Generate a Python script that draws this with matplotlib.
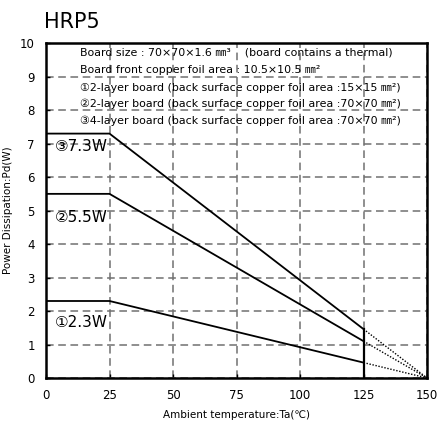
import numpy as np
import matplotlib.pyplot as plt

plt.rcParams['font.family'] = ['DejaVu Sans', 'Noto Sans CJK JP']

temps = [0, 25, 125]
tj_max = 150
pd_max = [2.3, 5.5, 7.3]
curve_labels = ['①2.3W', '②5.5W', '③7.3W']
label_y = [1.65, 4.8, 6.9]
notes = ['Board size : 70×70×1.6 ㎜³    (board contains a thermal)',
         'Board front copper foil area : 10.5×10.5 ㎜²',
         '①2-layer board (back surface copper foil area :15×15 ㎜²)',
         '②2-layer board (back surface copper foil area :70×70 ㎜²)',
         '③4-layer board (back surface copper foil area :70×70 ㎜²)']
note_y = [9.73, 9.19, 8.66, 8.18, 7.67]

fig = plt.figure(figsize=(4.38, 4.32), dpi=100)
ax = fig.add_axes([0.105, 0.125, 0.87, 0.775])

for p in pd_max:
    vals = [p, p, p * (tj_max - temps[2]) / (tj_max - temps[1])]
    ax.plot(temps, vals, color='black', lw=1.3, zorder=3)
    ax.plot([temps[2], tj_max], [vals[2], 0], color='black', lw=1.0, ls=(0, (1, 1.2)), zorder=3)

top = max(pd_max) * (tj_max - temps[2]) / (tj_max - temps[1])
ax.plot([125, 125], [0, top], color='black', lw=1.6, zorder=3)

ax.set_xlim(0, 150)
ax.set_ylim(0, 10)
ax.set_xticks(range(0, 151, 25))
ax.set_yticks(range(0, 11))
ax.grid(True, color='#707070', ls=(0, (5, 3)), lw=1.1)
for s in ax.spines.values():
    s.set_linewidth(1.8)
ax.tick_params(direction='in', length=3, width=1, labelsize=8.5, pad=8)

for lab, y in zip(curve_labels, label_y):
    ax.text(3.5, y, lab, fontsize=11, va='center', ha='left')
for note, y in zip(notes, note_y):
    ax.text(13.5, y, note, fontsize=7.9, va='center', ha='left')

ax.set_xlabel('Ambient temperature:Ta(℃)', fontsize=7.5, labelpad=6)
ax.set_ylabel('Power Dissipation:Pd(W)', fontsize=7.5, labelpad=5)
fig.text(0.1, 0.935, 'HRP5', fontsize=15)

fig.savefig('out.png', dpi=100)
